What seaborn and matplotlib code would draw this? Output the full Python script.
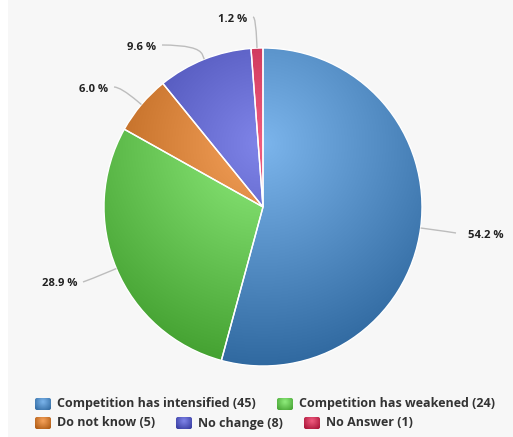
import numpy as np
import matplotlib
matplotlib.use("Agg")
import matplotlib.pyplot as plt
from matplotlib.patches import Rectangle, FancyBboxPatch, PathPatch
from matplotlib.path import Path
import seaborn as sns

# Survey answers and their counts
categories = ["Competition has intensified", "Competition has weakened",
              "Do not know", "No change", "No Answer"]
counts = [45, 24, 5, 8, 1]
base_colors = ["#7cb5ec", "#90ed7d", "#f7a35c", "#8085e9", "#f15c80"]

W, H = 513, 437
sns.set_theme(style="white")
plt.rcParams["font.family"] = ["Open Sans", "DejaVu Sans"]

palette = sns.color_palette(base_colors)


def darker(c, amount=76 / 255):
    return tuple(max(0.0, ch - amount) for ch in c)


fig = plt.figure(figsize=(W / 100, H / 100), dpi=100)
fig.patch.set_facecolor("white")
ax = fig.add_axes([0, 0, 1, 1])
ax.add_patch(Rectangle((8, 0), W - 8, H, facecolor="#f7f7f7",
                       edgecolor="none", zorder=0))

# Pie, clockwise from 12 o'clock (y axis is flipped to pixel orientation)
cx, cy, R = 263, 207, 159
wedges, _ = ax.pie(counts, colors=palette, startangle=-90, counterclock=True,
                   center=(cx, cy), radius=R, frame=True,
                   wedgeprops=dict(edgecolor="white", linewidth=1))

# Radial gradient fill shared by all slices
gx, gy = np.meshgrid(np.linspace(0, W, W * 2), np.linspace(0, H, H * 2))
gcx, gcy, gr = cx, cy - R + 0.3 * 2 * R, 0.7 * 2 * R
t = np.clip(np.hypot(gx - gcx, gy - gcy) / gr, 0, 1)[..., None]
for w, c in zip(wedges, palette):
    c0 = np.array(c)
    c1 = np.array(darker(c))
    img = c0 * (1 - t) + c1 * t
    im = ax.imshow(img, extent=(0, W, H, 0), origin="upper", zorder=1,
                   interpolation="bilinear")
    im.set_clip_path(w)
    w.set_facecolor("none")
    w.set_zorder(2)

# Percentage labels with soft connectors
total = sum(counts)
pct = [100 * v / total for v in counts]
label_anchor = [(456, 233, "left"), (83, 282, "right"), (114, 87, "right"),
                (162, 45, "right"), (253, 17, "right")]
for w, p, (axx, ayy, side) in zip(wedges, pct, label_anchor):
    mid = np.deg2rad((w.theta1 + w.theta2) / 2)
    d = np.array([np.cos(mid), np.sin(mid)])
    p0 = np.array(w.center) + w.r * d
    p1 = np.array(w.center) + (w.r + 5) * d
    # control point: continue the radial direction until the label's row
    tt = (ayy - p1[1]) / d[1] if abs(d[1]) > 1e-6 else 0.0
    tt = max(tt, 0.0)
    if abs(d[0]) > 1e-6:
        tt = min(tt, 0.8 * abs(axx - p1[0]) / abs(d[0]))
    ctrl = tuple(p1 + tt * d)
    path = Path([tuple(p0), tuple(p1), ctrl, (axx, ayy)],
                [Path.MOVETO, Path.LINETO, Path.CURVE3, Path.CURVE3])
    ax.add_patch(PathPatch(path, facecolor="none", edgecolor="#bdbdbd",
                           linewidth=1, zorder=3))
    tx = axx + 12 if side == "left" else axx - 6
    ax.text(tx, ayy + 2, f"{p:.1f} %", ha=side, va="center",
            fontsize=8.1, fontweight="bold", color="#222222", zorder=4)

# Legend laid out in two rows
legend_rows = [(404, [(35, 0), (277, 1)]), (423, [(35, 2), (176, 3), (304, 4)])]
sw, sh = 16, 12
for yc, items in legend_rows:
    for x0, i in items:
        y0 = yc - sh / 2
        box = FancyBboxPatch((x0, y0), sw, sh,
                             boxstyle="round,pad=0,rounding_size=2",
                             facecolor="none", edgecolor="none", zorder=3)
        ax.add_patch(box)
        sx, sy = np.meshgrid(np.linspace(x0, x0 + sw, 32),
                             np.linspace(y0, y0 + sh, 24))
        st = np.clip(np.hypot(sx - (x0 + sw / 2), sy - (y0 + 0.3 * sh))
                     / (0.7 * sw), 0, 1)[..., None]
        c0 = np.array(palette[i])
        c1 = np.array(darker(palette[i]))
        sim = ax.imshow(c0 * (1 - st) + c1 * st,
                        extent=(x0, x0 + sw, y0 + sh, y0), origin="upper",
                        zorder=3, interpolation="bilinear")
        sim.set_clip_path(box)
        ax.text(x0 + 22, yc, f"{categories[i]} ({counts[i]})", ha="left",
                va="center", fontsize=9.0, fontweight="bold",
                color="#333333", zorder=4)

ax.set_xlim(0, W)
ax.set_ylim(H, 0)
ax.set_aspect("auto")
ax.axis("off")

fig.savefig("out.png", dpi=100, facecolor=fig.get_facecolor())
